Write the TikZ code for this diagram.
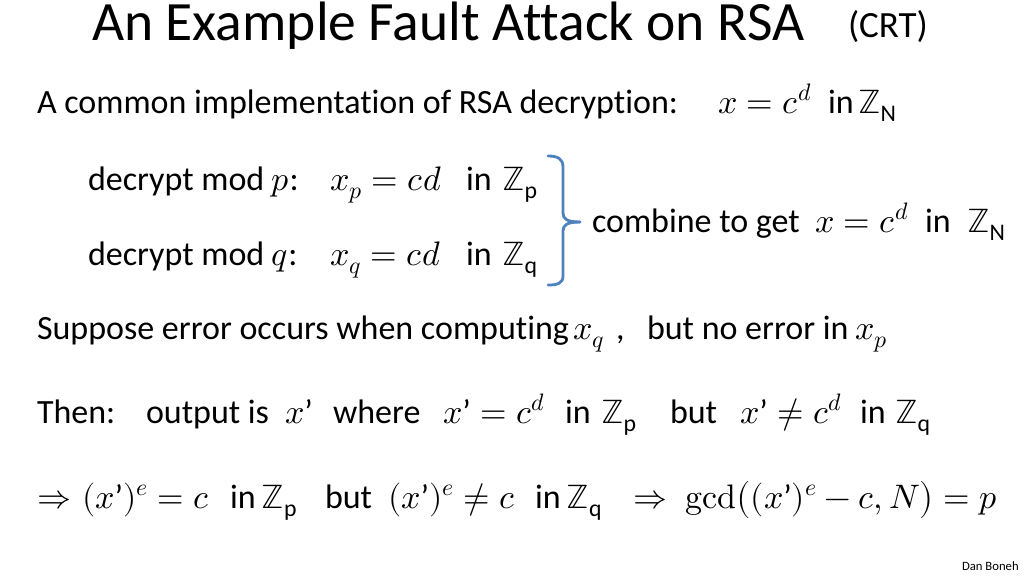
\documentclass[tikz,border=0pt]{standalone}
\usepackage{amsmath}
\usepackage{fontspec}
\usepackage{unicode-math}
\setmainfont{Carlito}[Ligatures=NoCommon]
\setmathfont{Latin Modern Math}
\definecolor{braceblue}{RGB}{79,129,189}
\newcommand{\Zsub}[1]{\mathbb{Z}_{\text{#1}}}
\newcommand{\apo}{\text{’}}
\begin{document}
\begin{tikzpicture}[x=1pt,y=-1pt,
  every node/.style={inner sep=0pt, outer sep=0pt, anchor=base west},
  title/.style={font=\fontsize{55.5}{62}\selectfont},
  crt/.style={font=\fontsize{37}{42}\selectfont},
  txt/.style={font=\fontsize{34}{40}\selectfont},
  small/.style={font=\fontsize{12.7}{14}\selectfont},
  bracestyle/.style={draw=braceblue, line width=2.8pt, line cap=round, line join=round}]
\useasboundingbox (0,0) rectangle (1024,576);
% title
\node[title] (t1) at (92,40) {An Example Fault Attack on RSA};
\node[crt] (t2) at (848,37) {(CRT)};
% line 1
\node[txt] (a1) at (37,113) {A common implementation of RSA decryption:};
\node[txt] (a2) at (718,113) {$x = c^{d}$};
\node[txt] (a3) at (828,113) {in};
\node[txt] (a4) at (858,113) {$\Zsub{N}$};
% decrypt p
\node[txt] (b1) at (88,190) {decrypt mod $p$:};
\node[txt] (b2) at (330,190) {$x_p = cd$};
\node[txt] (b3) at (466,190) {in};
\node[txt] (b4) at (502,190) {$\Zsub{p}$};
% decrypt q
\node[txt] (c1) at (88,265) {decrypt mod $q$:};
\node[txt] (c2) at (330,265) {$x_q = cd$};
\node[txt] (c3) at (466,265) {in};
\node[txt] (c4) at (502,265) {$\Zsub{q}$};
% brace
\draw[bracestyle] (548,156) .. controls (558,156) and (563,159) .. (563,167) -- (563,213)
  .. controls (563,219) and (567,222) .. (580,222);
\draw[bracestyle] (580,222) .. controls (567,222) and (563,225) .. (563,231) -- (563,276)
  .. controls (563,283) and (558,285) .. (548,285);
% combine
\node[txt] (d1) at (592,232) {combine to get};
\node[txt] (d2) at (815,232) {$x = c^{d}$};
\node[txt] (d3) at (925,232) {in};
\node[txt] (d4) at (967,232) {$\Zsub{N}$};
% suppose
\node[txt] (e1) at (37,339) {Suppose error occurs when computing};
\node[txt] (e2) at (573,339) {$x_q$};
\node[txt] (e3) at (616,339) {,};
\node[txt] (e4) at (647,339) {but no error in};
\node[txt] (e5) at (855,339) {$x_p$};
% then
\node[txt] (f1) at (37,423) {Then:};
\node[txt] (f2) at (146,423) {output is};
\node[txt] (f3) at (285,423) {$x\apo$};
\node[txt] (f4) at (333,423) {where};
\node[txt] (f5) at (443,423) {$x\apo = c^{d}$};
\node[txt] (f6) at (565,423) {in};
\node[txt] (f7) at (601,423) {$\Zsub{p}$};
\node[txt] (f8) at (670,423) {but};
\node[txt] (f9) at (740,423) {$x\apo \neq c^{d}$};
\node[txt] (f10) at (860,423) {in};
\node[txt] (f11) at (895,423) {$\Zsub{q}$};
% last line
\node[txt] (g1) at (37,508) {$\Rightarrow$};
\node[txt] (g2) at (82,508) {$(x\apo)^{e} = c$};
\node[txt] (g3) at (230,508) {in\,$\Zsub{p}$};
\node[txt] (g4) at (325,508) {but};
\node[txt] (g5) at (388,508) {$(x\apo)^{e} \neq c$};
\node[txt] (g6) at (535,508) {in\,$\Zsub{q}$};
\node[txt] (g7) at (633,508) {$\Rightarrow$};
\node[txt] (g8) at (685,508) {$\symup{gcd}\bigl((x\apo)^{e} - c, N\bigr) = p$};
% author
\node[small] (h1) at (962,570) {Dan Boneh};
\end{tikzpicture}
\end{document}
